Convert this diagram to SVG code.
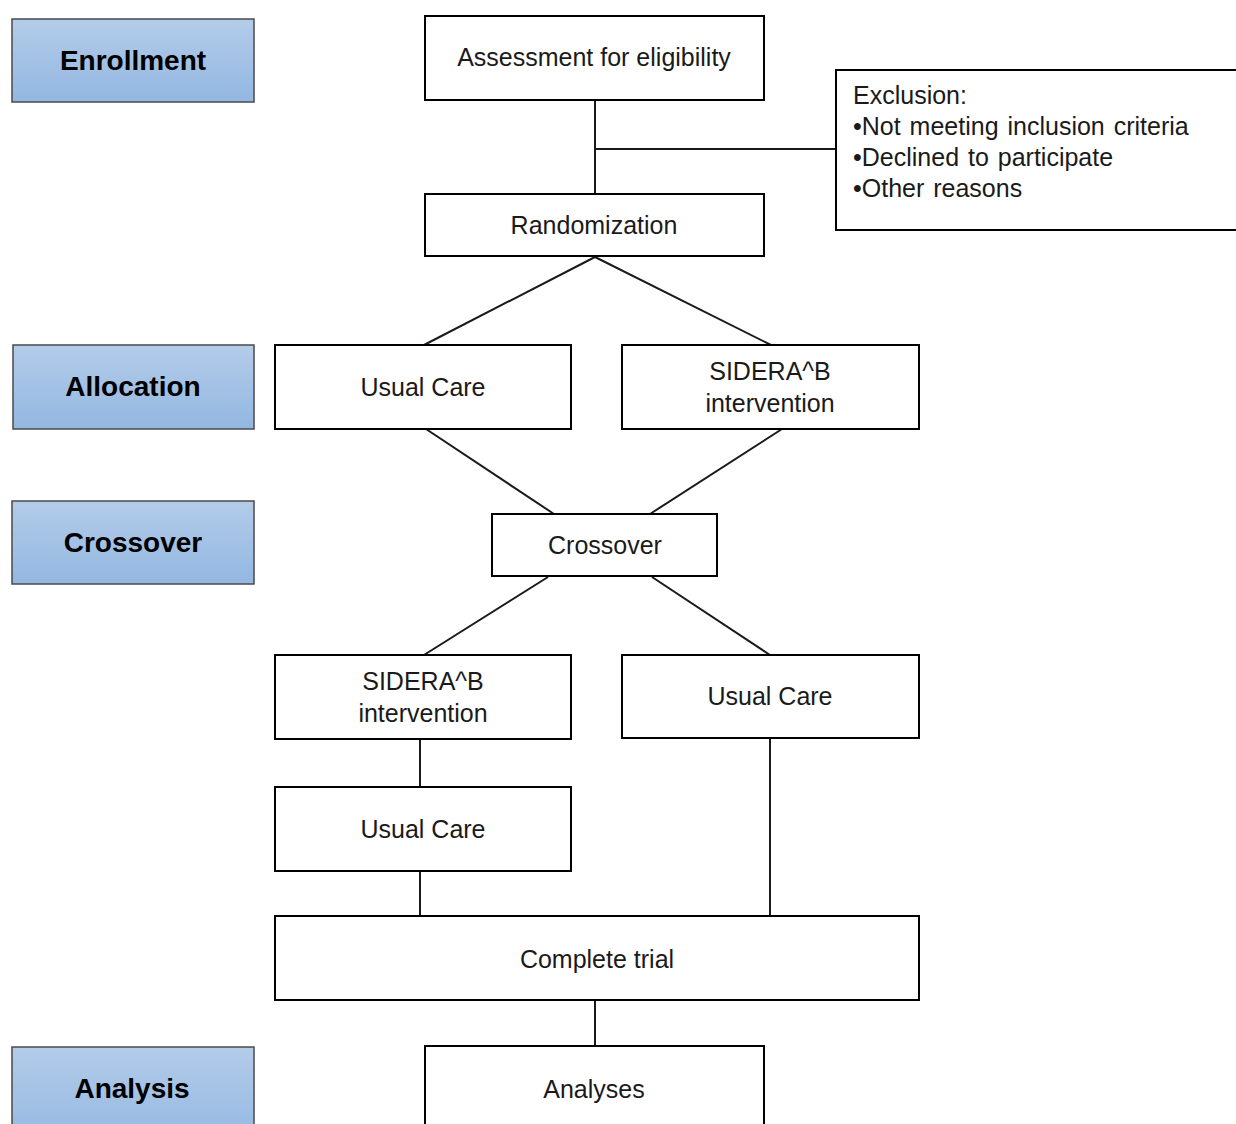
<svg xmlns="http://www.w3.org/2000/svg" width="1236" height="1124" viewBox="0 0 1236 1124">
<defs>
<linearGradient id="blue" x1="0" y1="0" x2="0" y2="1">
<stop offset="0" stop-color="#b3cce9"/>
<stop offset="1" stop-color="#93b7e1"/>
</linearGradient>
<style>
.lab rect{fill:url(#blue);stroke:#4a4a4a;stroke-width:1.5}
.lab text{font-family:"Liberation Sans",Arial,sans-serif;font-weight:bold;font-size:28px;fill:#000;text-anchor:middle}
.box rect{fill:#fff;stroke:#000;stroke-width:2}
.box text{font-family:"Liberation Sans",Arial,sans-serif;font-size:25px;fill:#1a1a1a;text-anchor:middle}
.ex text{text-anchor:start;word-spacing:2px}
#connectors line{stroke:#1a1a1a;stroke-width:2}
</style>
</defs>
<rect width="1236" height="1124" fill="#fff"/>
<g id="connectors">
<line x1="595" y1="100" x2="595" y2="194"/>
<line x1="595" y1="149" x2="836" y2="149"/>
<line x1="595" y1="257" x2="424" y2="345"/>
<line x1="595" y1="257" x2="771" y2="345"/>
<line x1="426" y1="429" x2="554" y2="514"/>
<line x1="782" y1="429" x2="650" y2="514"/>
<line x1="548" y1="577" x2="424" y2="655"/>
<line x1="652" y1="577" x2="770" y2="655"/>
<line x1="420" y1="739" x2="420" y2="787"/>
<line x1="420" y1="871" x2="420" y2="916"/>
<line x1="770" y1="738" x2="770" y2="916"/>
<line x1="595" y1="1000" x2="595" y2="1046"/>
</g>
<g id="lab-enrollment" class="lab"><rect x="12" y="19" width="242" height="83"/><text x="133" y="70">Enrollment</text></g>
<g id="lab-allocation" class="lab"><rect x="13" y="345" width="241" height="84"/><text x="133" y="396">Allocation</text></g>
<g id="lab-crossover" class="lab"><rect x="12" y="501" width="242" height="83"/><text x="133" y="552">Crossover</text></g>
<g id="lab-analysis" class="lab"><rect x="12" y="1047" width="242" height="100"/><text x="132" y="1098">Analysis</text></g>
<g id="assessment" class="box"><rect x="425" y="16" width="339" height="84"/><text x="594" y="66">Assessment for eligibility</text></g>
<g id="exclusion" class="box ex"><rect x="836" y="70" width="420" height="160"/>
<text x="853" y="104">Exclusion:</text>
<text x="853" y="135">•Not meeting inclusion criteria</text>
<text x="853" y="166">•Declined to participate</text>
<text x="853" y="197">•Other reasons</text></g>
<g id="randomization" class="box"><rect x="425" y="194" width="339" height="62"/><text x="594" y="234">Randomization</text></g>
<g id="usual1" class="box"><rect x="275" y="345" width="296" height="84"/><text x="423" y="396">Usual Care</text></g>
<g id="sidera1" class="box"><rect x="622" y="345" width="297" height="84"/><text x="770" y="380">SIDERA^B</text><text x="770" y="412">intervention</text></g>
<g id="crossover" class="box"><rect x="492" y="514" width="225" height="62"/><text x="605" y="554">Crossover</text></g>
<g id="sidera2" class="box"><rect x="275" y="655" width="296" height="84"/><text x="423" y="690">SIDERA^B</text><text x="423" y="722">intervention</text></g>
<g id="usual2" class="box"><rect x="622" y="655" width="297" height="83"/><text x="770" y="705">Usual Care</text></g>
<g id="usual3" class="box"><rect x="275" y="787" width="296" height="84"/><text x="423" y="838">Usual Care</text></g>
<g id="complete" class="box"><rect x="275" y="916" width="644" height="84"/><text x="597" y="968">Complete trial</text></g>
<g id="analyses" class="box"><rect x="425" y="1046" width="339" height="100"/><text x="594" y="1098">Analyses</text></g>
</svg>
